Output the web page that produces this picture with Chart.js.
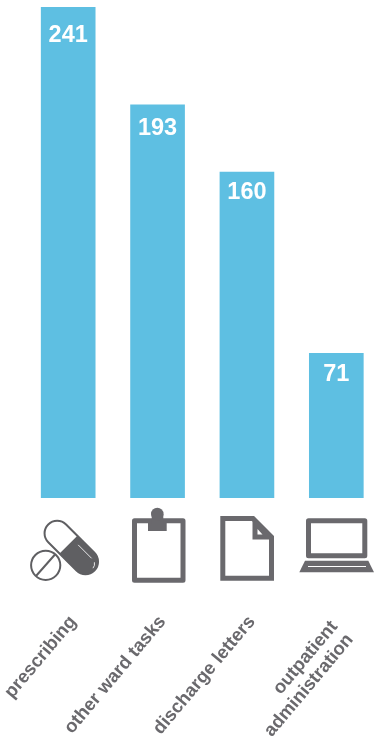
<!DOCTYPE html>
<html>
<head>
<meta charset="utf-8">
<style>
  html, body { margin: 0; padding: 0; background: #fff; overflow: hidden; }
  canvas { display: block; }
</style>
<script src="https://cdn.jsdelivr.net/npm/chart.js@4"></script>
</head>
<body>
<canvas id="chart" width="381" height="738" style="width:381px;height:738px"></canvas>
<script>
var categories = ["prescribing", "other ward tasks", "discharge letters", ["outpatient", "administration"]];
var hours = [241, 193, 160, 71];

var BLUE = "#5ebfe2";
var GREY = "#6a696d";
var labelDrop = [29, 24, 20, 21];

// white numbers just inside the top of each bar
var barValues = {
    id: "barValues",
    afterDatasetsDraw: function (chart) {
        var c = chart.ctx;
        c.save();
        c.fillStyle = "#fff";
        c.font = "bold 23.5px 'Liberation Sans'";
        c.textAlign = "center";
        c.textBaseline = "middle";
        chart.getDatasetMeta(0).data.forEach(function (bar, i) {
            c.fillText(hours[i], bar.x, bar.y + labelDrop[i]);
        });
        c.restore();
    }
};

// the two line label sits further left and lower than the others
var shiftLastLabel = {
    id: "shiftLastLabel",
    beforeDraw: function (chart) {
        chart.scales.x.getLabelItems().forEach(function (item, i) {
            if (i === 3) {
                item.options.translation[0] -= 7;
                item.options.translation[1] += 5;
            }
        });
    }
};

function drawPill(c) {
    c.save();
    c.translate(71.3, 547.5);
    c.rotate(Math.PI / 4);
    // capsule outline, right half filled
    c.strokeStyle = "#5f5f62";
    c.lineWidth = 2;
    c.beginPath();
    c.moveTo(-20, -12.6);
    c.lineTo(20, -12.6);
    c.arc(20, 0, 12.6, -Math.PI / 2, Math.PI / 2);
    c.lineTo(-20, 12.6);
    c.arc(-20, 0, 12.6, Math.PI / 2, -Math.PI / 2);
    c.closePath();
    c.stroke();
    c.fillStyle = "#5f5f62";
    c.beginPath();
    c.moveTo(-4, -12.6);
    c.lineTo(20, -12.6);
    c.arc(20, 0, 12.6, -Math.PI / 2, Math.PI / 2);
    c.lineTo(-4, 12.6);
    c.closePath();
    c.fill();
    // highlights
    c.strokeStyle = "#fff";
    c.lineWidth = 0.8;
    c.beginPath();
    c.moveTo(3, -6.7);
    c.lineTo(22, -6.7);
    c.stroke();
    c.beginPath();
    c.arc(23, 0, 7, -1.0, -0.1);
    c.stroke();
    c.restore();
    // tablet
    c.fillStyle = "#fff";
    c.beginPath();
    c.arc(45.7, 565.3, 16, 0, Math.PI * 2);
    c.fill();
    c.strokeStyle = "#5f5f62";
    c.lineWidth = 2;
    c.beginPath();
    c.arc(45.7, 565.3, 14.6, 0, Math.PI * 2);
    c.moveTo(36, 576);
    c.lineTo(55, 554.5);
    c.stroke();
}

function drawClipboard(c) {
    c.strokeStyle = GREY;
    c.fillStyle = GREY;
    c.lineWidth = 5;
    c.lineJoin = "round";
    c.strokeRect(134.5, 520.8, 48.5, 59.5);
    c.fillRect(148, 523, 18.7, 8);
    c.fillRect(151.7, 514, 11.6, 10);
    c.beginPath();
    c.arc(157.3, 514, 6.3, 0, Math.PI * 2);
    c.fill();
}

function drawDocument(c) {
    c.strokeStyle = GREY;
    c.fillStyle = GREY;
    c.lineWidth = 5;
    c.lineJoin = "miter";
    c.beginPath();
    c.moveTo(222.8, 518.5);
    c.lineTo(253, 518.5);
    c.lineTo(271.5, 537);
    c.lineTo(271.5, 578.2);
    c.lineTo(222.8, 578.2);
    c.closePath();
    c.stroke();
    c.beginPath();
    c.moveTo(252.5, 516);
    c.lineTo(274, 537);
    c.lineTo(274, 539.5);
    c.lineTo(252.5, 539.5);
    c.closePath();
    c.fill();
    c.fillStyle = "#fff";
    c.beginPath();
    c.moveTo(257.5, 529);
    c.lineTo(262.5, 534.5);
    c.lineTo(257.5, 534.5);
    c.closePath();
    c.fill();
}

function drawLaptop(c) {
    c.strokeStyle = GREY;
    c.fillStyle = GREY;
    c.lineWidth = 5;
    c.lineJoin = "round";
    c.strokeRect(308.5, 520.8, 56.3, 35);
    c.beginPath();
    c.moveTo(305, 560.7);
    c.lineTo(368.3, 560.7);
    c.lineTo(374, 572.3);
    c.lineTo(299.3, 572.3);
    c.closePath();
    c.fill();
    c.strokeStyle = "#fff";
    c.lineWidth = 1.2;
    c.beginPath();
    c.moveTo(308, 566.5);
    c.lineTo(366, 566.5);
    c.stroke();
}

var icons = {
    id: "icons",
    afterDraw: function (chart) {
        var c = chart.ctx;
        c.save();
        drawPill(c);
        drawClipboard(c);
        drawDocument(c);
        drawLaptop(c);
        c.restore();
    }
};

new Chart(document.getElementById("chart").getContext("2d"), {
    type: "bar",
    data: {
        labels: categories,
        datasets: [{
            data: hours,
            backgroundColor: BLUE,
            borderWidth: 0,
            barThickness: 54
        }]
    },
    options: {
        responsive: false,
        animation: false,
        layout: { padding: { left: 23.5, right: 0, top: 7, bottom: 0 } },
        plugins: { legend: { display: false }, tooltip: { enabled: false } },
        scales: {
            x: {
                grid: { display: false },
                border: { display: false },
                afterFit: function (scale) {
                    // labels overhang to the left, keep the bars where they are
                    scale.height = 240;
                    scale.paddingLeft = 0;
                    scale.paddingRight = 0;
                },
                ticks: {
                    autoSkip: false,
                    minRotation: 50,
                    maxRotation: 50,
                    padding: 106,
                    labelOffset: 5,
                    color: GREY,
                    font: { family: "'Liberation Sans'", size: 18.5, weight: "bold", lineHeight: 1.1 }
                }
            },
            y: {
                display: false,
                min: 0,
                max: 241
            }
        }
    },
    plugins: [barValues, shiftLastLabel, icons]
});
</script>
</body>
</html>
